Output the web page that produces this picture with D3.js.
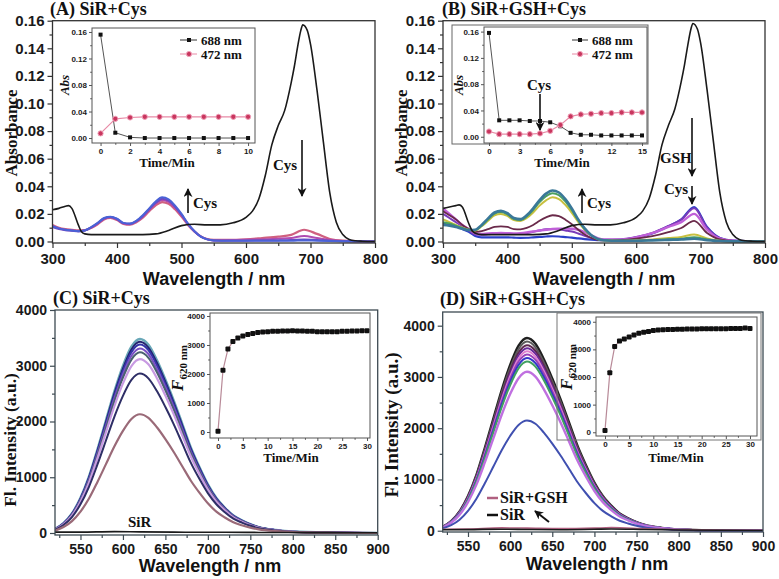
<!DOCTYPE html>
<html><head><meta charset="utf-8">
<script src="https://cdn.jsdelivr.net/npm/d3@7"></script>
<style>body{margin:0;background:#fff}svg{display:block}</style>
</head><body><svg id="c" width="779" height="579"></svg>
<script>
// ---------- DATA ----------
// Absorbance (A, B)
const absWlBlack=[300,310,320,325,330,340,345,350,360,380,400,420,440,460,480,500,520,540,560,580,600,610,620,630,640,650,660,670,675,680,685,688,695,700,710,720,730,740,750,760,770,780,800];
const absA_SiR=[0.023,0.024,0.0255,0.026,0.024,0.012,0.007,0.0055,0.005,0.005,0.005,0.005,0.005,0.0055,0.008,0.0115,0.0125,0.012,0.012,0.0135,0.0175,0.022,0.031,0.048,0.07,0.084,0.095,0.115,0.127,0.141,0.153,0.157,0.153,0.143,0.11,0.072,0.035,0.014,0.005,0.0015,0.0005,0.0002,0];
const absB_SiR=[0.024,0.025,0.026,0.0265,0.025,0.013,0.008,0.006,0.005,0.005,0.005,0.005,0.005,0.0055,0.008,0.0115,0.0125,0.012,0.012,0.0135,0.0175,0.022,0.031,0.048,0.07,0.084,0.096,0.116,0.128,0.142,0.154,0.158,0.154,0.144,0.11,0.072,0.035,0.014,0.005,0.0015,0.0005,0.0002,0];
const absWl=[300,310,320,330,340,350,360,370,380,390,400,410,420,430,440,450,460,470,480,490,500,510,520,530,540,550,575,600,625,650,670,690,710,730,750,800];
const absA_pink=[0.012,0.010,0.009,0.0085,0.008,0.0082,0.0098,0.0125,0.016,0.017,0.0155,0.0128,0.0122,0.014,0.0173,0.022,0.0262,0.0285,0.0273,0.0233,0.018,0.012,0.0072,0.0037,0.0018,0.0012,0.0012,0.0016,0.0025,0.0035,0.0048,0.0085,0.0055,0.0018,0.0006,0];
const absA_magenta=[0.011,0.0095,0.0085,0.008,0.0075,0.008,0.010,0.013,0.0165,0.0175,0.016,0.013,0.0125,0.0145,0.018,0.023,0.0275,0.030,0.0287,0.0245,0.019,0.0125,0.0072,0.0035,0.0015,0.0008,0.001,0.0012,0.0015,0.002,0.0025,0.004,0.0025,0.001,0.0004,0];
const absA_purple=[0.0105,0.009,0.0082,0.0078,0.0074,0.008,0.0102,0.0133,0.0168,0.0178,0.0163,0.0133,0.0128,0.0148,0.0185,0.0235,0.028,0.031,0.0296,0.0252,0.0195,0.0128,0.0074,0.0035,0.0015,0.0008,0.0006,0.0006,0.0007,0.0008,0.001,0.0015,0.001,0.0005,0.0002,0];
const absA_blue=[0.011,0.0095,0.0085,0.008,0.0075,0.008,0.0105,0.0135,0.017,0.018,0.0165,0.0135,0.013,0.015,0.019,0.024,0.029,0.032,0.0305,0.026,0.02,0.013,0.0075,0.0035,0.0015,0.0008,0.0005,0.0005,0.0005,0.0005,0.0005,0.0008,0.0005,0.0003,0.0002,0];
const absB_blue=[0.013,0.012,0.011,0.009,0.007,0.004,0.003,0.003,0.003,0.003,0.003,0.0028,0.0026,0.0027,0.003,0.0033,0.0036,0.0038,0.0036,0.0032,0.0028,0.0022,0.0017,0.0013,0.001,0.0009,0.0012,0.0028,0.0058,0.011,0.016,0.025,0.0105,0.0025,0.0006,0];
const absB_violet=[0.02,0.017,0.014,0.011,0.008,0.005,0.0048,0.0052,0.0058,0.006,0.0058,0.0055,0.0055,0.006,0.007,0.008,0.0088,0.009,0.0088,0.008,0.0072,0.0058,0.0042,0.0028,0.0018,0.0013,0.0015,0.0032,0.0062,0.0112,0.0158,0.024,0.010,0.0024,0.0006,0];
const absB_lilac=[0.024,0.02,0.016,0.012,0.009,0.006,0.0055,0.0058,0.006,0.0062,0.006,0.0058,0.006,0.0065,0.0072,0.008,0.0085,0.009,0.0092,0.0093,0.0092,0.0085,0.0068,0.0045,0.0025,0.0015,0.0015,0.003,0.006,0.0105,0.014,0.020,0.0085,0.002,0.0005,0];
const absB_maroon=[0.022,0.019,0.016,0.012,0.009,0.007,0.0075,0.009,0.0105,0.011,0.0105,0.009,0.0088,0.0098,0.012,0.015,0.0175,0.019,0.0183,0.0158,0.0125,0.0085,0.005,0.0025,0.0012,0.0008,0.001,0.002,0.0038,0.0068,0.0098,0.015,0.0062,0.0015,0.0004,0];
const absB_yellow=[0.016,0.014,0.012,0.010,0.0085,0.008,0.011,0.015,0.019,0.020,0.0185,0.0155,0.0148,0.017,0.021,0.026,0.0298,0.032,0.0307,0.0265,0.0208,0.0142,0.0085,0.0043,0.0018,0.0009,0.0006,0.0009,0.0015,0.0025,0.0033,0.005,0.0022,0.0006,0.0002,0];
const absB_green=[0.014,0.013,0.0115,0.0098,0.0085,0.0082,0.0115,0.016,0.0202,0.0213,0.0197,0.0163,0.0155,0.0182,0.0228,0.0285,0.0328,0.035,0.0335,0.029,0.0226,0.0152,0.009,0.0045,0.0018,0.0009,0.0005,0.0006,0.001,0.0016,0.002,0.003,0.0014,0.0004,0.0001,0];
const absB_teal=[0.012,0.0115,0.0105,0.0092,0.0082,0.0085,0.012,0.0167,0.021,0.0222,0.0205,0.017,0.0162,0.019,0.024,0.030,0.0347,0.037,0.0355,0.0307,0.024,0.016,0.0095,0.0047,0.0019,0.0009,0.0005,0.0005,0.0008,0.0012,0.0015,0.002,0.001,0.0003,0.0001,0];
// Absorbance insets
const timeA=[0,1,2,3,4,5,6,7,8,9,10];
const insA_688=[0.156,0.008,0.001,0,0,0,0,0,0,0,0];
const insA_472=[0.007,0.029,0.031,0.032,0.032,0.032,0.032,0.032,0.032,0.032,0.032];
const timeB=[0,1,2,3,4,5,6,7,8,9,10,11,12,13,14,15];
const insB_688=[0.158,0.025,0.025,0.025,0.024,0.024,0.022,0.016,0.006,0.003,0.003,0.002,0.002,0.002,0.002,0.002];
const insB_472=[0.008,0.004,0.004,0.004,0.004,0.005,0.009,0.018,0.031,0.034,0.035,0.036,0.036,0.037,0.037,0.037];
// Fluorescence (C, D)
const flWl=[520,530,540,550,560,570,580,590,600,610,620,630,640,650,660,670,680,690,700,710,720,730,740,750,760,780,800,850,900];
const flC_2130=[43,107,213,383,618,916,1235,1555,1832,2045,2130,2066,1896,1683,1448,1193,937,724,533,383,277,192,138,96,64,32,15,4,0];
const flC_2860=[57,143,286,515,829,1230,1659,2088,2460,2746,2860,2774,2545,2259,1945,1602,1258,972,715,515,372,257,186,129,86,43,20,6,0];
const flC_3120=[62,156,312,562,905,1342,1810,2278,2683,2995,3120,3026,2777,2465,2122,1747,1373,1061,780,562,406,281,203,140,94,47,22,6,0];
const flC_3240=[65,162,324,583,940,1393,1879,2365,2786,3110,3240,3143,2884,2560,2203,1814,1426,1102,810,583,421,292,211,146,97,49,23,6,0];
const flC_3310=[66,166,331,596,960,1423,1920,2416,2847,3178,3310,3211,2946,2615,2251,1854,1456,1125,828,596,430,298,215,149,99,50,23,7,0];
const flC_3380=[68,169,338,608,980,1453,1960,2467,2907,3245,3380,3279,3008,2670,2298,1893,1487,1149,845,608,439,304,220,152,101,51,24,7,0];
const flC_3430=[69,172,343,617,995,1475,1989,2504,2950,3293,3430,3327,3053,2710,2332,1921,1509,1166,858,617,446,309,223,154,103,51,24,7,0];
const flC_3480=[70,174,348,626,1009,1496,2018,2540,2993,3341,3480,3376,3097,2749,2366,1949,1531,1183,870,626,452,313,226,157,104,52,24,7,0];
const flBaseWl=[520,550,590,620,660,700,720,760,800,850,900];
const flC_SiR=[15,16,24,20,16,12,12,10,8,6,5];
const flD_2150=[43,108,215,387,624,925,1247,1570,1849,2064,2150,2086,1914,1699,1462,1204,946,731,538,387,280,194,140,97,65,32,15,4,0];
const flD_3100=[62,155,310,558,899,1333,1798,2263,2666,2976,3100,3007,2759,2449,2108,1736,1364,1054,775,558,403,279,202,140,93,47,22,6,0];
const flD_3300=[66,165,330,594,957,1419,1914,2409,2838,3168,3300,3201,2937,2607,2244,1848,1452,1122,825,594,429,297,215,149,99,50,23,7,0];
const flD_3370=[67,169,337,607,977,1449,1955,2460,2898,3235,3370,3269,2999,2662,2292,1887,1483,1146,843,607,438,303,219,152,101,51,24,7,0];
const flD_3440=[69,172,344,619,998,1479,1995,2511,2958,3302,3440,3337,3062,2718,2339,1926,1514,1170,860,619,447,310,224,155,103,52,24,7,0];
const flD_3500=[70,175,350,630,1015,1505,2030,2555,3010,3360,3500,3395,3115,2765,2380,1960,1540,1190,875,630,455,315,228,158,105,53,25,7,0];
const flD_3560=[71,178,356,641,1032,1531,2065,2599,3062,3418,3560,3453,3168,2812,2421,1994,1566,1210,890,641,463,320,231,160,107,53,25,7,0];
const flD_3620=[72,181,362,652,1050,1557,2100,2643,3113,3475,3620,3511,3222,2860,2462,2027,1593,1231,905,652,471,326,235,163,109,54,25,7,0];
const flD_3690=[74,185,369,664,1070,1587,2140,2694,3173,3542,3690,3579,3284,2915,2509,2066,1624,1255,923,664,480,332,240,166,111,55,26,7,0];
const flD_3760=[75,188,376,677,1090,1617,2181,2745,3234,3610,3760,3647,3346,2970,2557,2106,1654,1278,940,677,489,338,244,169,113,56,26,8,0];
const flD_GSH=[30,35,55,50,40,50,60,40,25,15,10];
const flD_SiR=[20,22,30,25,20,28,35,25,15,8,5];
// Fluorescence insets
const timeCD=[0,1,2,3,4,5,6,7,8,9,10,11,12,13,14,15,16,17,18,19,20,21,22,23,24,25,26,27,28,29,30];
const insC_F=[30,2130,2860,3120,3240,3310,3360,3400,3430,3450,3460,3470,3470,3480,3480,3490,3480,3480,3470,3470,3460,3460,3460,3460,3460,3470,3470,3480,3480,3490,3490];
const insD_F=[60,2150,3100,3300,3380,3450,3520,3580,3620,3650,3680,3700,3710,3720,3720,3730,3730,3740,3740,3740,3750,3750,3750,3750,3750,3750,3760,3760,3760,3770,3760];
// Tick values
const absXTicks=[300,400,500,600,700,800], absXMinor=[350,450,550,650,750];
const absYTicks=[0,0.02,0.04,0.06,0.08,0.10,0.12,0.14,0.16], absYMinor=[0.01,0.03,0.05,0.07,0.09,0.11,0.13,0.15];
const flXTicks=[550,600,650,700,750,800,850,900], flXMinor=[525,575,625,675,725,775,825,875];
const flYTicks=[0,1000,2000,3000,4000], flYMinor=[500,1500,2500,3500];
const insAXTicks=[0,2,4,6,8,10], insAXMinor=[1,3,5,7,9];
const insBXTicks=[0,3,6,9,12,15], insBXMinor=[1.5,4.5,7.5,10.5,13.5];
const insAbsYTicks=[0,0.04,0.08,0.12,0.16], insAbsYMinor=[0.02,0.06,0.10,0.14];
const insFlXTicks=[0,5,10,15,20,25,30], insFlXMinor=[2.5,7.5,12.5,17.5,22.5,27.5];
const insFlYTicks=[0,1000,2000,3000,4000], insFlYMinor=[500,1500,2500,3500];

// ---------- DRAWING ----------
const SANS='"Liberation Sans", Arial, sans-serif';
const SERIF='"Liberation Serif", "Times New Roman", serif';
const svg=d3.select("#c");
let clipN=0;

function panel(o){
  const x=d3.scaleLinear().domain(o.xd).range([o.l,o.r]);
  const y=d3.scaleLinear().domain(o.yd).range([o.b,o.t]);
  const g=svg.append("g");
  const id="cp"+(clipN++);
  g.append("clipPath").attr("id",id).append("rect").attr("x",o.l).attr("y",o.t).attr("width",o.r-o.l).attr("height",o.b-o.t);
  const axes=g.append("g");
  const plot=g.append("g").attr("clip-path",`url(#${id})`);
  const st=sel=>{sel.select(".domain").remove();
    sel.selectAll(".tick line").attr("stroke",o.fc).attr("stroke-width",o.tw);
    sel.selectAll("text").attr("font-family",SANS).attr("font-weight","bold").attr("font-size",o.fs).attr("fill","#1a1a1a");};
  axes.append("g").attr("transform",`translate(0,${o.b})`).call(d3.axisBottom(x).tickValues(o.xt).tickSize(o.ts).tickPadding(o.tpx).tickFormat(o.xf)).call(st);
  axes.append("g").attr("transform",`translate(0,${o.b})`).call(d3.axisBottom(x).tickValues(o.xm).tickSize(o.ts*0.6).tickFormat("")).call(st);
  axes.append("g").attr("transform",`translate(${o.l},0)`).call(d3.axisLeft(y).tickValues(o.yt).tickSize(o.ts).tickPadding(o.tpy).tickFormat(o.yf)).call(st);
  axes.append("g").attr("transform",`translate(${o.l},0)`).call(d3.axisLeft(y).tickValues(o.ym).tickSize(o.ts*0.6).tickFormat("")).call(st);
  const frame=()=>g.append("rect").attr("x",o.l).attr("y",o.t).attr("width",o.r-o.l).attr("height",o.b-o.t)
      .attr("fill","none").attr("stroke",o.fc).attr("stroke-width",o.fw);
  const line=(xs,ys,color,w,curve)=>plot.append("path").datum(d3.zip(xs,ys))
      .attr("d",d3.line().x(d=>x(d[0])).y(d=>y(d[1])).curve(curve||d3.curveMonotoneX))
      .attr("fill","none").attr("stroke",color).attr("stroke-width",w).attr("stroke-linejoin","round");
  return {x,y,g,plot,frame,line};
}
function txt(x,y,s,o={}){
  const t=svg.append("text").attr("x",x).attr("y",y).text(s)
    .attr("font-family",o.ff||SERIF).attr("font-weight",o.fw||"bold").attr("font-size",o.fs||15)
    .attr("fill",o.fill||"#111").attr("text-anchor",o.anchor||"start");
  if(o.italic) t.attr("font-style","italic");
  if(o.rot) t.attr("x",0).attr("y",0).attr("transform",`translate(${x},${y}) rotate(-90)`);
  return t;
}
svg.append("defs").append("marker").attr("id","ah").attr("viewBox","0 0 10 10").attr("refX",9).attr("refY",5)
  .attr("markerWidth",9).attr("markerHeight",9).attr("orient","auto-start-reverse").attr("markerUnits","userSpaceOnUse")
  .append("path").attr("d","M0,0 L10,5 L0,10 L3,5 z").attr("fill","#111");
function arrow(x1,y1,x2,y2,w){
  svg.append("line").attr("x1",x1).attr("y1",y1).attr("x2",x2).attr("y2",y2).attr("stroke","#111").attr("stroke-width",w||1.6).attr("marker-end","url(#ah)");
}
const f2=d3.format(".2f"), fd=d3.format("d");

const mainAbs={xd:[300,800],yd:[-0.0011,0.16],xt:absXTicks,xm:absXMinor,yt:absYTicks,ym:absYMinor,xf:fd,yf:f2,
  ts:5,tpx:5,tpy:3,fs:15,fc:"#333",fw:1.3,tw:1.2};
const mainFl={xd:[520,900],xt:flXTicks,xm:flXMinor,yt:flYTicks,ym:flYMinor,xf:fd,yf:fd,
  ts:5,tpx:4,tpy:3,fs:14,fc:"#3d4a52",fw:1.3,tw:1.2};

// ===== Panel A =====
{
  const p=panel({...mainAbs,l:52.5,r:375,t:20.7,b:243});
  p.line(absWl,absA_pink,"#d06080",2.2);
  p.line(absWl,absA_magenta,"#b04cb0",2);
  p.line(absWl,absA_purple,"#7048c0",2);
  p.line(absWl,absA_blue,"#4a62d6",2);
  p.line(absWlBlack,absA_SiR,"#1a1a1a",1.6);
  p.frame();
  txt(50,15,"(A) SiR+Cys",{fs:18});
  txt(17,133,"Absorbance",{fs:17,rot:true,anchor:"middle"});
  txt(214,285,"Wavelength / nm",{ff:SANS,fs:18,anchor:"middle"});
  arrow(188,213,188,189); txt(193,208,"Cys",{fs:15});
  arrow(302,140,302,196); txt(273,170,"Cys",{fs:15});
  // inset
  const q=panel({xd:[-0.58,10.47],yd:[-0.0075,0.166],l:92,r:255,t:28,b:143,xt:insAXTicks,xm:insAXMinor,yt:insAbsYTicks,ym:insAbsYMinor,
    xf:fd,yf:f2,ts:3,tpx:2,tpy:2,fs:8,fc:"#555",fw:1,tw:1});
  q.line(timeA,insA_688,"#555",1,d3.curveLinear);
  q.line(timeA,insA_472,"#e88aa6",1.2,d3.curveLinear);
  q.plot.selectAll(".m1").data(d3.zip(timeA,insA_688)).join("rect").attr("x",d=>q.x(d[0])-2).attr("y",d=>q.y(d[1])-2).attr("width",4).attr("height",4).attr("fill","#111");
  q.plot.selectAll(".m2").data(d3.zip(timeA,insA_472)).join("circle").attr("cx",d=>q.x(d[0])).attr("cy",d=>q.y(d[1])).attr("r",2.6).attr("fill","#c8365e").attr("stroke","#f0a0b8").attr("stroke-width",1);
  q.frame();
  txt(167,167,"Time/Min",{fs:13,anchor:"middle"});
  txt(69,85,"Abs",{fs:13,italic:true,rot:true,anchor:"middle"});
  svg.append("line").attr("x1",180).attr("x2",197).attr("y1",40).attr("y2",40).attr("stroke","#333");
  svg.append("rect").attr("x",187).attr("y",38).attr("width",4).attr("height",4).attr("fill","#111");
  txt(201,44.5,"688 nm",{fs:13});
  svg.append("line").attr("x1",180).attr("x2",197).attr("y1",54).attr("y2",54).attr("stroke","#e88aa6");
  svg.append("circle").attr("cx",189).attr("cy",54).attr("r",2.6).attr("fill","#c8365e").attr("stroke","#f0a0b8");
  txt(201,58.5,"472 nm",{fs:13});
}
// ===== Panel B =====
{
  const p=panel({...mainAbs,l:443,r:765,t:20.7,b:243});
  p.line(absWl,absB_blue,"#2a3fc8",2.2);
  p.line(absWl,absB_violet,"#7a3ab8",2);
  p.line(absWl,absB_lilac,"#c060d8",2.4);
  p.line(absWl,absB_maroon,"#6a2a4a",1.8);
  p.line(absWl,absB_yellow,"#c8c040",2);
  p.line(absWl,absB_green,"#4aa060",2);
  p.line(absWl,absB_teal,"#3a7898",2.6);
  p.line(absWlBlack,absB_SiR,"#1a1a1a",1.6);
  p.frame();
  txt(442,15,"(B) SiR+GSH+Cys",{fs:18});
  txt(407,133,"Absorbance",{fs:17,rot:true,anchor:"middle"});
  txt(604,285,"Wavelength / nm",{ff:SANS,fs:18,anchor:"middle"});
  arrow(582,213,582,189); txt(587,208,"Cys",{fs:15});
  txt(660,163,"GSH",{fs:15});
  arrow(692,118,692,176);
  txt(664,194,"Cys",{fs:15});
  arrow(692,186,692,204);
  // inset
  svg.append("rect").attr("x",452).attr("y",25).attr("width",196).attr("height",119).attr("fill","none").attr("stroke","#666").attr("stroke-width",1);
  const q=panel({xd:[-0.49,15.49],yd:[-0.0095,0.167],l:484,r:647,t:27,b:143,xt:insBXTicks,xm:insBXMinor,yt:insAbsYTicks,ym:insAbsYMinor,
    xf:fd,yf:f2,ts:3,tpx:2,tpy:2,fs:8,fc:"#555",fw:1,tw:1});
  q.line(timeB,insB_688,"#555",1,d3.curveLinear);
  q.line(timeB,insB_472,"#e88aa6",1.2,d3.curveLinear);
  q.plot.selectAll(".m1").data(d3.zip(timeB,insB_688)).join("rect").attr("x",d=>q.x(d[0])-2).attr("y",d=>q.y(d[1])-2).attr("width",4).attr("height",4).attr("fill","#111");
  q.plot.selectAll(".m2").data(d3.zip(timeB,insB_472)).join("circle").attr("cx",d=>q.x(d[0])).attr("cy",d=>q.y(d[1])).attr("r",2.6).attr("fill","#c8365e").attr("stroke","#f0a0b8").attr("stroke-width",1);
  q.frame();
  txt(562,167,"Time/Min",{fs:13,anchor:"middle"});
  txt(463,85,"Abs",{fs:13,italic:true,rot:true,anchor:"middle"});
  txt(527,90,"Cys",{fs:15});
  arrow(540,94,540,130);
  svg.append("line").attr("x1",572).attr("x2",588).attr("y1",40).attr("y2",40).attr("stroke","#333");
  svg.append("rect").attr("x",578).attr("y",38).attr("width",4).attr("height",4).attr("fill","#111");
  txt(592,44.5,"688 nm",{fs:13});
  svg.append("line").attr("x1",572).attr("x2",588).attr("y1",54).attr("y2",54).attr("stroke","#e88aa6");
  svg.append("circle").attr("cx",580).attr("cy",54).attr("r",2.6).attr("fill","#c8365e").attr("stroke","#f0a0b8");
  txt(592,58.5,"472 nm",{fs:13});
}
// ===== Panel C =====
{
  const p=panel({...mainFl,yd:[-36,4000],l:55,r:377.7,t:310,b:535});
  p.line(flWl,flC_3480,"#6aa8b8",2.6);
  p.line(flWl,flC_3430,"#22226e",2);
  p.line(flWl,flC_3380,"#3434a8",2);
  p.line(flWl,flC_3310,"#7a50c4",2);
  p.line(flWl,flC_3240,"#4a6070",2);
  p.line(flWl,flC_3120,"#c89ae2",2.2);
  p.line(flWl,flC_2860,"#2e2e66",2);
  p.line(flWl,flC_2130,"#9a6a78",2.2);
  p.line(flBaseWl,flC_SiR,"#1a1a1a",1.6);
  p.frame();
  txt(53,304,"(C) SiR+Cys",{fs:18});
  txt(16,440,"Fl. Intensity (a.u.)",{fs:17.5,rot:true,anchor:"middle"});
  txt(210,572,"Wavelength / nm",{ff:SANS,fs:18,anchor:"middle"});
  txt(128,527,"SiR",{fs:15});
  const q=panel({xd:[-1.61,30.6],yd:[-207,4103],l:210,r:370,t:313,b:438,xt:insFlXTicks,xm:insFlXMinor,yt:insFlYTicks,ym:insFlYMinor,
    xf:fd,yf:fd,ts:3,tpx:2,tpy:2,fs:8,fc:"#555",fw:1,tw:1});
  q.line(timeCD,insC_F,"#b88a98",1.2,d3.curveLinear);
  q.plot.selectAll(".m").data(d3.zip(timeCD,insC_F)).join("rect").attr("x",d=>q.x(d[0])-2.5).attr("y",d=>q.y(d[1])-2.5).attr("width",5).attr("height",5).attr("rx",1).attr("fill","#111");
  q.frame();
  txt(291,462,"Time/Min",{fs:13,anchor:"middle"});
  const t=txt(183,368,"",{fs:16,rot:true,anchor:"middle"});
  t.append("tspan").text("F").attr("font-style","italic").attr("font-size",17);
  t.append("tspan").text("620 nm").attr("font-size",11).attr("dy",4);
}
// ===== Panel D =====
{
  const p=panel({...mainFl,yd:[-25,4267],l:442.7,r:763,t:312,b:532});
  p.line(flWl,flD_3760,"#202020",2.4);
  p.line(flWl,flD_3690,"#5c5c5c",2);
  p.line(flWl,flD_3620,"#5e2a50",2);
  p.line(flWl,flD_3560,"#6a2a9a",2);
  p.line(flWl,flD_3500,"#e080d0",2);
  p.line(flWl,flD_3440,"#9a40b8",2);
  p.line(flWl,flD_3370,"#3535c8",2);
  p.line(flWl,flD_3300,"#40a060",2);
  p.line(flWl,flD_3100,"#c070e0",2.4);
  p.line(flWl,flD_2150,"#4050b0",2);
  p.line(flBaseWl,flD_GSH,"#b06080",1.6);
  p.line(flBaseWl,flD_SiR,"#1a1a1a",1.6);
  p.frame();
  txt(440,305,"(D) SiR+GSH+Cys",{fs:18});
  txt(398,425,"Fl. Intensity (a.u.)",{fs:19,rot:true,anchor:"middle"});
  txt(597,570,"Wavelength / nm",{ff:SANS,fs:18,anchor:"middle"});
  svg.append("line").attr("x1",487).attr("x2",498).attr("y1",498).attr("y2",498).attr("stroke","#b06080").attr("stroke-width",2.5);
  txt(500,503,"SiR+GSH",{fs:16});
  svg.append("line").attr("x1",487).attr("x2",498).attr("y1",515).attr("y2",515).attr("stroke","#111").attr("stroke-width",2.5);
  txt(500,520,"SiR",{fs:16});
  arrow(549,522,535,511,2);
  const q=panel({xd:[-1.86,31.45],yd:[-135,4172],l:596,r:757,t:317,b:436,xt:insFlXTicks,xm:insFlXMinor,yt:insFlYTicks,ym:insFlYMinor,
    xf:fd,yf:fd,ts:3,tpx:2,tpy:2,fs:8,fc:"#555",fw:1,tw:1});
  q.line(timeCD,insD_F,"#b88a98",1.2,d3.curveLinear);
  q.plot.selectAll(".m").data(d3.zip(timeCD,insD_F)).join("rect").attr("x",d=>q.x(d[0])-2.5).attr("y",d=>q.y(d[1])-2.5).attr("width",5).attr("height",5).attr("rx",1).attr("fill","#111");
  q.frame();
  svg.append("rect").attr("x",557).attr("y",313).attr("width",204).attr("height",127).attr("fill","none").attr("stroke","#777").attr("stroke-width",1);
  txt(676,462,"Time/Min",{fs:13,anchor:"middle"});
  const t=txt(572,367,"",{fs:16,rot:true,anchor:"middle"});
  t.append("tspan").text("F").attr("font-style","italic").attr("font-size",17);
  t.append("tspan").text("620 nm").attr("font-size",11).attr("dy",4);
}
</script></body></html>
